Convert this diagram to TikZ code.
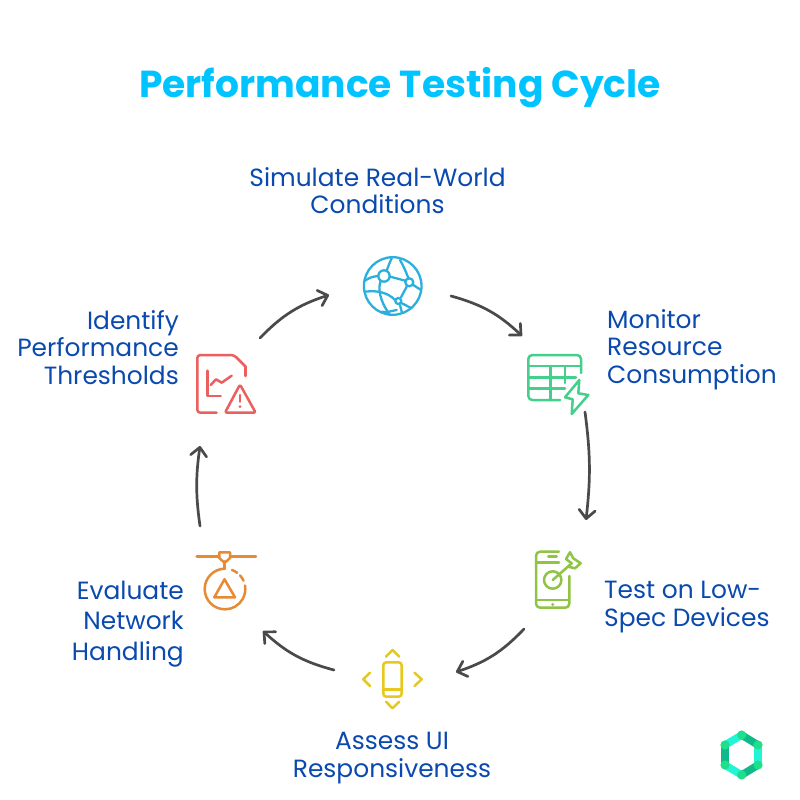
\documentclass[tikz,border=0pt]{standalone}
\usepackage{fontspec}
\setmainfont{Poppins}
\usetikzlibrary{arrows.meta}
\definecolor{titlec}{HTML}{00C4FF}
\definecolor{labelc}{HTML}{0A4AAE}
\definecolor{arrowc}{HTML}{4A4A4A}
\definecolor{globec}{HTML}{2BAFDC}
\definecolor{sheetc}{HTML}{44CF8C}
\definecolor{phonec}{HTML}{8FC444}
\definecolor{yellc}{HTML}{E6C81E}
\definecolor{oranc}{HTML}{E68A35}
\definecolor{redc}{HTML}{EC5F5F}
\definecolor{logoa}{HTML}{0FB98A}
\definecolor{logob}{HTML}{22F5D5}
\definecolor{logoc}{HTML}{1FE08A}
\tikzset{
  x=1pt,y=-1pt,
  lbl/.style={text=labelc,font=\fontsize{24.9}{27.6}\selectfont,inner sep=0pt},
  icon/.style={line width=2.5pt,line cap=round,line join=round},
  cyc/.style={draw=arrowc,line width=2.7pt,line cap=round,-{Straight Barb[length=8.5pt,width=16pt,line width=2.7pt,round]}},
  logoseg/.style={line width=7.5pt,line cap=round}
}
\begin{document}
\begin{tikzpicture}
\useasboundingbox (0,0) rectangle (800,800);
\fill[white] (0,0) rectangle (800,800);
\node[text=titlec,font=\fontsize{37.6}{40}\bfseries\selectfont,inner sep=0pt] (title) at (400,88) {Performance Testing Cycle};
% labels
\node[lbl,align=center] (l1) at (377.5,190.5) {Simulate Real-World\\Conditions};
\node[lbl,align=left,anchor=west] (l2) at (607,349.5) {Monitor\\Resource\\Consumption};
\node[lbl,align=left,anchor=west] (l3) at (604,607) {Test on Low-\\Spec Devices};
\node[lbl,align=center] (l4) at (392,758) {Assess UI\\Responsiveness};
\node[lbl,align=right,anchor=east,font=\fontsize{24.9}{30.5}\selectfont] (l5) at (184,624) {Evaluate\\Network\\Handling};
\node[lbl,align=right,anchor=east] (l6) at (179,347.5) {Identify\\Performance\\Thresholds};
% connector ends
\coordinate (a1) at (451,296); \coordinate (b1) at (522,336);
\coordinate (a2) at (585,412); \coordinate (b2) at (586,520);
\coordinate (a3) at (524,629); \coordinate (b3) at (456,672);
\coordinate (a4) at (334,670); \coordinate (b4) at (263,631);
\coordinate (a5) at (200,526); \coordinate (b5) at (200,446);
\coordinate (a6) at (260,338); \coordinate (b6) at (329,295);
\draw[cyc] (a1) to[bend left=14] (b1);
\draw[cyc] (a2) to[bend left=7] (b2);
\draw[cyc] (a3) to[bend left=14] (b3);
\draw[cyc] (a4) to[bend left=14] (b4);
\draw[cyc] (a5) to[bend left=8] (b5);
\draw[cyc] (a6) to[bend left=14] (b6);
% globe
\begin{scope}[icon,draw=globec,line width=2.3pt]
\draw (392.7,286) circle[radius=28.8];
\draw (384,276) circle[radius=5.7];
\draw (409.3,282.3) circle[radius=4];
\draw (398.3,301) circle[radius=3];
\draw (391.7,258.3) .. controls (389,264) and (388,267) .. (386.7,270.7);
\draw (380.7,280.7) .. controls (378,288) and (379,300) .. (390,315);
\draw (378.3,276) .. controls (372,276.5) and (369,278) .. (365,280.7);
\draw (365,291.7) .. controls (378,290) and (388,293) .. (394.5,299.5);
\draw (389.5,276.5) -- (405.3,280.7);
\draw (406.7,286.7) -- (401,297.3);
\draw (400,260) .. controls (404,267) and (406,272) .. (408.3,278);
\draw (413.3,285) -- (421,290);
\draw (400.7,302.7) -- (411.7,308.3);
\draw (400,305) -- (401.7,311.7);
\draw (381.7,311.7) .. controls (386,313) and (391,311) .. (396.7,310);
\end{scope}
% table
\begin{scope}[icon,draw=sheetc]
\draw[rounded corners=4pt] (581,373) -- (581,355) -- (528.3,355) -- (528.3,400) -- (560,400);
\draw (528.3,366) -- (581,366);
\draw (528.3,377.3) -- (576,377.3);
\draw (528.3,388.3) -- (565,388.3);
\draw (550.7,366) -- (550.7,400);
\draw (565,366) -- (565,383);
\draw (579.3,380) -- (565,397.3) -- (572.7,399.3) -- (571.7,414) -- (588.3,395) -- (578.3,393.3) -- cycle;
\end{scope}
% phone
\begin{scope}[icon,draw=phonec]
\draw[rounded corners=4pt] (559,551.7) -- (536,551.7) -- (536,607.7) -- (569.3,607.7) -- (569.3,576);
\draw (536,562.3) -- (559,562.3);
\draw (536,600) -- (569.3,600);
\draw (548.3,556.7) -- (556.7,556.7);
\fill[phonec] (552.7,604.5) circle[radius=1.6];
\draw (552.7,580) circle[radius=8.7];
\draw (552.7,580) -- (571.7,563.3);
\draw (571.7,563.3) -- (566,559) -- (570,552.3) -- (573.3,558.3) -- (580.7,563.3) -- (575,568.3) -- (568.3,566.7);
\end{scope}
% UI
\begin{scope}[icon,draw=yellc]
\draw[rounded corners=3pt] (383.3,662.3) rectangle (401.7,696.7);
\draw (383.3,689.3) -- (401.7,689.3);
\draw (386,656.7) -- (392.5,650) -- (399.3,656.7);
\draw (386,701.7) -- (392.5,708.3) -- (399.3,701.7);
\draw (370,672.7) -- (363.3,679.3) -- (370,686);
\draw (414.5,672.7) -- (421.7,679.3) -- (414.5,686);
\end{scope}
% nozzle
\begin{scope}[icon,draw=oranc]
\draw (196.7,556.7) -- (256,556.7);
\draw[fill=white] (219.3,552.3) -- (230,552.3) -- (230,558) -- (226,561.7) -- (223.3,561.7) -- (219.3,558) -- cycle;
\draw (224.7,561.7) -- (224.7,568.7);
\draw (225,568.7) arc[start angle=-90,end angle=-370,radius=20.3];
\draw (225,589) ++(-70:20.3) arc[start angle=-70,end angle=-53,radius=20.3];
\draw (225,589) ++(-42:20.3) arc[start angle=-42,end angle=-24,radius=20.3];
\draw (224.5,579.3) -- (214.3,597.3) -- (235,597.3) -- cycle;
\end{scope}
% document
\begin{scope}[icon,draw=redc]
\draw[rounded corners=3pt] (216.7,412.7) -- (197.3,412.7) -- (197.3,355) -- (234,355) -- (245.7,366.7);
\draw (245.7,366.7) -- (245.7,376);
\draw (207.3,370.7) -- (207.3,396) -- (220.7,396);
\draw (210.7,385) -- (216,379.3) -- (221.7,382.7) -- (231.7,375.7);
\draw[rounded corners=2pt] (240,384.5) -- (225,412.7) -- (255.7,412.7) -- cycle;
\draw (240,395) -- (240,401.7);
\fill[redc] (240,406.7) circle[radius=1.5];
\end{scope}
% logo
\coordinate (h1) at (741.7,735); \coordinate (h2) at (758,745); \coordinate (h3) at (758,765);
\coordinate (h4) at (741.7,775); \coordinate (h5) at (725,765); \coordinate (h6) at (725,745);
\draw[logoseg,draw=logob] (h6) -- (h1);
\draw[logoseg,draw=logob] (h2) -- (h3);
\draw[logoseg,draw=logob] (h4) -- (h5);
\draw[logoseg,draw=logoa] (h1) -- (h2);
\draw[logoseg,draw=logoa] (h3) -- (h4);
\draw[logoseg,draw=logoa] (h5) -- (h6);
\foreach \p in {h1,h2,h3,h4,h5,h6} \fill[logoc] (\p) circle[radius=4.6];
\end{tikzpicture}
\end{document}
